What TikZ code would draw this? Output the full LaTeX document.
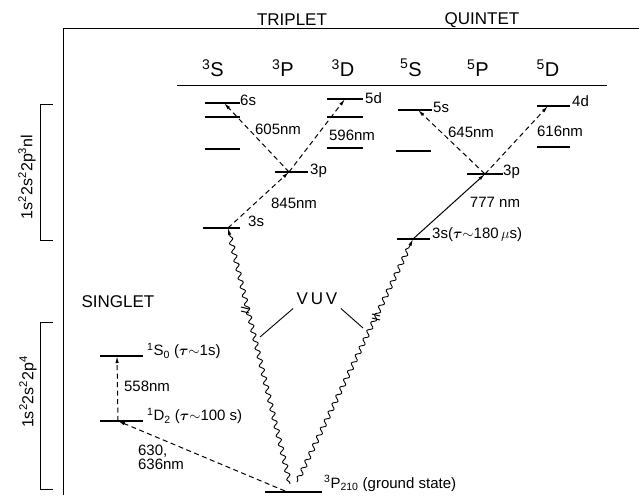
\documentclass[tikz,border=0pt]{standalone}
\usepackage{amsmath,amssymb}
\usepackage{fontspec}
\setmainfont{Liberation Sans}
\usetikzlibrary{arrows.meta,positioning,decorations.pathmorphing}

\newcommand{\lblfont}{\fontsize{15}{16}\selectfont}
\newcommand{\ttlfont}{\fontsize{17}{19}\selectfont}
\newcommand{\hdfont}{\fontsize{20}{22}\selectfont}

\tikzset{
  lvl/.style={line width=1.3pt},
  dashtr/.style={->,line width=1pt,dash pattern=on 5pt off 3.5pt},
  soltr/.style={->,line width=1pt},
  wavy/.style={->,line width=0.9pt,decorate,
    decoration={snake,amplitude=2.2pt,segment length=9pt,pre length=2pt,post length=6pt}},
  lbl/.style={font=\lblfont,inner sep=1pt},
}

\begin{document}
\begin{tikzpicture}[x=1pt,y=-1pt,>={Latex[length=7pt,width=3.4pt]}]
\useasboundingbox (0,0) rectangle (639,495);

% frame and multiplet titles
\draw[line width=1pt] (639,29) -- (63,29) -- (63,495);
\node[font=\ttlfont] (trip) at (292,20) {TRIPLET};
\node[font=\ttlfont] (quin) at (482,20) {QUINTET};
\node[font=\ttlfont] (sing) at (118,302) {SINGLET};

% term headers
\foreach \x/\m/\t/\nm in {213/3/S/hTS,283/3/P/hTP,343/3/D/hTD,411/5/S/hQS,478/5/P/hQP,548/5/D/hQD}
  \node[font=\hdfont] (\nm) at (\x,68) {\textsuperscript{\m}\t};
\draw[line width=1pt] (177,85) -- (607,85);

% configuration brackets
\draw[line width=1pt] (53,104) -- (40,104) -- (40,240) -- (53,240);
\draw[line width=1pt] (53,322) -- (40,322) -- (40,489) -- (53,489);
\node[lbl,font=\fontsize{16}{18}\selectfont,rotate=90] (cfgA) at (27,177) {1s\textsuperscript{2}2s\textsuperscript{2}2p\textsuperscript{3}nl};
\node[lbl,font=\fontsize{16}{18}\selectfont,rotate=90] (cfgB) at (28,392) {1s\textsuperscript{2}2s\textsuperscript{2}2p\textsuperscript{4}};

% levels
\foreach \xa/\xb/\y in {205/240/103,205/240/117,205/240/149,203/240/228,
    275/308/172,327/363/99,327/363/117,327/363/148,
    398/432/110,396/431/151,397/430/239,467/503/174,537/570/106,537/570/147,
    100/143/356,100/143/421,265/322/492}
  \draw[lvl] (\xa,\y) -- (\xb,\y);

% transition end points
\coordinate (t3s) at (228,228);
\coordinate (t3p) at (289,172);
\coordinate (t6s) at (224,103);
\coordinate (t5d) at (345,99);
\coordinate (q3s) at (413,239);
\coordinate (q3p) at (485,174);
\coordinate (q5s) at (418,110);
\coordinate (q4d) at (548,106);
\coordinate (s1S) at (117,356);
\coordinate (s1D) at (118,421);
\coordinate (gL) at (290,484);
\coordinate (gR) at (297,482);
\coordinate (gD) at (285,491);

% level labels
\node[lbl,anchor=west] (l6s) at (239,100) {6s};
\node[lbl,anchor=west] (l3s) at (247,221) {3s};
\node[lbl,anchor=west] (l3p) at (309,171) {3p};
\node[lbl,anchor=west] (l5d) at (364,98) {5d};
\node[lbl,anchor=west] (l5s) at (432,107) {5s};
\node[lbl,anchor=west] (l4d) at (571,101) {4d};
\node[lbl,anchor=west] (q3pl) at (502,172) {3p};
\node[lbl,anchor=west] (q3sl) at (431,235) {3s($\boldsymbol{\tau}$$\sim$180\,$\mu$s)};
\node[lbl,anchor=west] (lS0) at (146,351) {\textsuperscript{1}S\textsubscript{0} ($\boldsymbol{\tau}$$\sim$1s)};
\node[lbl,anchor=west] (lD2) at (146,416) {\textsuperscript{1}D\textsubscript{2} ($\boldsymbol{\tau}$$\sim$100 s)};
\node[lbl,anchor=base west] (lgnd) at (323,488) {\textsuperscript{3}P\textsubscript{210} (ground state)};

% wavelengths
\node[lbl] (w605) at (278,129) {605nm};
\node[lbl] (w596) at (352,135) {596nm};
\node[lbl] (w845) at (294,203) {845nm};
\node[lbl] (w645) at (471,132) {645nm};
\node[lbl] (w616) at (560,131) {616nm};
\node[lbl] (w777) at (495,202) {777 nm};
\node[lbl] (w558) at (147,386) {558nm};
\node[lbl,align=left,font=\fontsize{15}{14}\selectfont] (w630) at (161,457) {630,\\636nm};

% transitions
\draw[dashtr] (t3s) -- (t3p);
\draw[dashtr] (t3p) -- (t6s);
\draw[dashtr] (t3p) -- (t5d);
\draw[soltr] (q3s) -- (q3p);
\draw[dashtr] (q3p) -- (q5s);
\draw[dashtr] (q3p) -- (q4d);
\draw[dashtr] (s1D) -- (s1S);
\draw[dashtr] (gD) -- (s1D);

% VUV excitation
\draw[wavy] (gL) -- (t3s);
\draw[wavy] (gR) -- (q3s);
\coordinate (brkL) at (245,310);
\coordinate (brkR) at (376,317);
\foreach \c in {brkL,brkR} {
  \draw[line width=1pt] ([shift={(-4,-3)}]\c) -- ([shift={(4,-1)}]\c);
  \draw[line width=1pt] ([shift={(-4,1)}]\c) -- ([shift={(4,3)}]\c);
}
\node[font=\ttlfont] (vuv) at (317,299) {V\,U\,V};
\coordinate (vuvL) at (260,337);
\coordinate (vuvR) at (363,328);
\draw[line width=0.9pt] (vuv.south west) -- (vuvL);
\draw[line width=0.9pt] (vuv.south east) -- (vuvR);
\end{tikzpicture}
\end{document}
